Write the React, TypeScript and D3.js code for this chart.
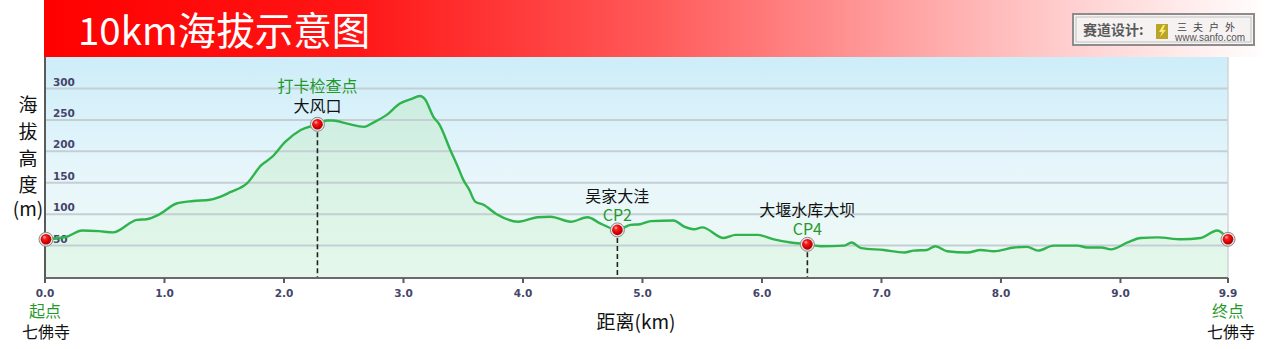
import React from "react";
import * as d3 from "d3";

const distances = [0, 0.18, 0.31, 0.45, 0.57, 0.77, 0.85, 0.96, 1.10, 1.24, 1.38, 1.47, 1.55, 1.69, 1.81, 1.90, 2.01, 2.14, 2.28, 2.36, 2.41, 2.53, 2.67, 2.75, 2.86, 2.97, 3.06, 3.14, 3.18, 3.25, 3.30, 3.39, 3.46, 3.50, 3.55, 3.60, 3.67, 3.78, 3.96, 4.12, 4.23, 4.40, 4.54, 4.65, 4.79, 4.90, 4.98, 5.07, 5.26, 5.35, 5.43, 5.50, 5.68, 5.78, 5.96, 6.10, 6.24, 6.38, 6.49, 6.69, 6.75, 6.83, 7.02, 7.19, 7.27, 7.38, 7.45, 7.55, 7.72, 7.83, 7.94, 8.11, 8.22, 8.31, 8.44, 8.64, 8.72, 8.84, 8.92, 9.06, 9.17, 9.31, 9.51, 9.67, 9.81, 9.90];
const elevations = [60, 64, 74, 73, 71, 91, 92, 100, 117, 121, 123, 128, 135, 149, 178, 191, 215, 234, 243, 249, 249, 244, 239, 246, 258, 276, 283, 288, 283, 255, 243, 203, 173, 155, 139, 120, 115, 100, 88, 95, 96, 88, 95, 85, 75, 83, 84, 89, 90, 80, 76, 79, 62, 67, 67, 60, 55, 52, 49, 50, 55, 46, 43, 39, 42, 43, 49, 41, 39, 43, 41, 47, 48, 42, 50, 50, 47, 47, 44, 55, 62, 63, 60, 62, 74, 60];

const yTicks = [50, 100, 150, 200, 250, 300];
const xTicks = [0, 1, 2, 3, 4, 5, 6, 7, 8, 9, 9.9];

const cpDistances = [2.28, 4.79, 6.38];
const cpNames = ["大风口", "吴家大洼", "大堰水库大坝"];
const cpTags = ["打卡检查点", "CP2", "CP4"];
const cpTagFirst = [true, false, false];

const endDistances = [0, 9.9];
const endTags = ["起点", "终点"];
const endNames = ["七佛寺", "七佛寺"];

const titleText = "10km海拔示意图";
const yTitleChars = ["海", "拔", "高", "度", "(m)"];
const xTitle = "距离(km)";

const W = 1269, H = 349;
const left = 45, right = 1228, top = 57, bottom = 278;

const x = d3.scaleLinear().domain([0, 9.9]).range([left, right]);
const y = d3.scaleLinear().domain([0, 300]).range([277, 88.5]);

const data = distances.map((d, i) => ({ d, e: elevations[i] }));
const elevAt = (dist: number) => {
  const i = d3.bisector((p: any) => p.d).left(data, dist);
  if (i <= 0) return data[0].e;
  if (i >= data.length) return data[data.length - 1].e;
  const a = data[i - 1], b = data[i];
  const t = (dist - a.d) / (b.d - a.d);
  return a.e + (b.e - a.e) * t;
};

const lineGen = d3.line<any>().x(p => x(p.d)).y(p => y(p.e)).curve(d3.curveMonotoneX);
const areaGen = d3.area<any>().x(p => x(p.d)).y0(bottom).y1(p => y(p.e)).curve(d3.curveMonotoneX);

const CJK = "'Noto Sans CJK SC', 'Noto Sans', sans-serif";
const NUM = "'DejaVu Sans', Verdana, sans-serif";
const GREEN_TXT = "#1f9a2a";

function Marker({ cx, cy }: { cx: number; cy: number }) {
  return (
    <g>
      <circle cx={cx} cy={cy} r={7} fill="#e4e4e4" stroke="#8a8a8a" strokeWidth={1} />
      <circle cx={cx} cy={cy} r={5.3} fill="url(#ball)" />
      <circle cx={cx - 1.5} cy={cy - 2} r={1.4} fill="#ff9a9a" opacity={0.8} />
    </g>
  );
}

export default function App() {
  return (
    <svg width={W} height={H} style={{ position: "absolute", left: 0, top: 0, background: "#fff" }}>
      <defs>
        <linearGradient id="banner" x1="0" x2="1" y1="0" y2="0">
          <stop offset="0" stopColor="#ff0000" />
          <stop offset="0.25" stopColor="#ff1515" />
          <stop offset="0.5" stopColor="#ff5a5a" />
          <stop offset="0.72" stopColor="#ffa8a8" />
          <stop offset="0.86" stopColor="#ffd6d6" />
          <stop offset="1" stopColor="#ffffff" />
        </linearGradient>
        <linearGradient id="plotbg" x1="0" x2="0" y1="0" y2="1">
          <stop offset="0" stopColor="#cdedf9" />
          <stop offset="0.55" stopColor="#e8f6fb" />
          <stop offset="1" stopColor="#eefaf3" />
        </linearGradient>
        <linearGradient id="areafill" x1="0" x2="0" y1="0" y2="1">
          <stop offset="0" stopColor="#c6ecd5" stopOpacity={0.7} />
          <stop offset="1" stopColor="#e4f7ea" stopOpacity={0.85} />
        </linearGradient>
        <radialGradient id="ball" cx="0.4" cy="0.35" r="0.7">
          <stop offset="0" stopColor="#ff3a3a" />
          <stop offset="0.6" stopColor="#e00000" />
          <stop offset="1" stopColor="#9a0000" />
        </radialGradient>
      </defs>

      {/* banner */}
      <rect x={44} y={0} width={W - 44} height={top} fill="url(#banner)" />
      <text x={78} y={45} fill="#ffffff" fontSize={38.5} fontFamily={CJK}>{titleText}</text>

      {/* logo */}
      <g>
        <rect x={1073} y={14} width={181} height={31} fill="#f6f2f2" stroke="#8c8c8c" strokeWidth={2} />
        <rect x={1076} y={17} width={175} height={25} fill="none" stroke="#b5b5b5" strokeWidth={0.8} />
        <text x={1083} y={35} fontSize={14} fontWeight="bold" fill="#5a5a5a" fontFamily={CJK}>赛道设计:</text>
        <rect x={1156} y={24} width={12} height={15} fill="#b9a52a" />
        <path d="M1163,25 L1159,32 L1162,32 L1160,37 L1166,30 L1163,30 L1165,25 Z" fill="#f7ec6a" />
        <text fontSize={10} fill="#444" fontFamily={CJK}>
          <tspan x={1177} y={31} letterSpacing={6}>三夫户外</tspan>
          <tspan x={1175} y={41} letterSpacing={0} fill="#555" fontFamily="'Liberation Sans', Arial, sans-serif">www.sanfo.com</tspan>
        </text>
      </g>

      {/* plot background */}
      <rect x={left} y={top} width={right - left} height={bottom - top} fill="url(#plotbg)" />

      {/* area */}
      <path d={areaGen(data) || ""} fill="url(#areafill)" />

      {/* gridlines */}
      {yTicks.map(t => (
        <line key={"g" + t} x1={left} x2={right} y1={y(t)} y2={y(t)} stroke="#c4cfd4" strokeWidth={2} />
      ))}

      {/* right border */}
      <line x1={right} x2={right} y1={top} y2={bottom} stroke="#cfd6d9" strokeWidth={1.5} />

      {/* y tick labels */}
      {yTicks.map(t => (
        <text key={"yl" + t} x={53} y={y(t) - 3} fontSize={10.5} fontWeight="bold" fill="#45456a" fontFamily={NUM}>{t}</text>
      ))}

      {/* dashed lines */}
      {cpDistances.map((d, i) => (
        <line key={"dl" + i} x1={x(d)} x2={x(d)} y1={y(elevAt(d))} y2={bottom} stroke="#222" strokeWidth={1.6} strokeDasharray="5,3" />
      ))}

      {/* profile line */}
      <path d={lineGen(data) || ""} fill="none" stroke="#2fb34c" strokeWidth={2.4} strokeLinejoin="round" />

      {/* axes */}
      <line x1={left} x2={left} y1={top} y2={bottom + 5} stroke="#5a5a5a" strokeWidth={2} />
      <line x1={left} x2={right} y1={bottom} y2={bottom} stroke="#6a6a6a" strokeWidth={2} />
      {xTicks.map(t => (
        <g key={"xt" + t}>
          <line x1={x(t)} x2={x(t)} y1={bottom} y2={bottom + 5} stroke="#5a5a5a" strokeWidth={2} />
          <text x={x(t)} y={297} textAnchor="middle" fontSize={10.5} fontWeight="bold" fill="#45456a" fontFamily={NUM}>{t.toFixed(1)}</text>
        </g>
      ))}

      {/* checkpoint markers and labels */}
      {cpDistances.map((d, i) => {
        const cx = x(d), cy = y(elevAt(d));
        const tagFirst = cpTagFirst[i];
        const l1 = tagFirst ? cpTags[i] : cpNames[i];
        const l2 = tagFirst ? cpNames[i] : cpTags[i];
        const c1 = tagFirst ? GREEN_TXT : "#111";
        const c2 = tagFirst ? "#111" : GREEN_TXT;
        return (
          <g key={"cp" + i}>
            <Marker cx={cx} cy={cy} />
            <text textAnchor="middle" fontSize={16} fontFamily={CJK}>
              <tspan x={cx} y={cy - (tagFirst ? 32 : 28)} fill={c1}>{l1}</tspan>
              <tspan x={cx} y={cy - (tagFirst ? 12 : 9)} fill={c2}>{l2}</tspan>
            </text>
          </g>
        );
      })}

      {/* start/end markers */}
      {endDistances.map((d, i) => (
        <g key={"end" + i}>
          <Marker cx={x(d) + (i === 0 ? 1 : 0)} cy={y(elevAt(d))} />
          <text textAnchor="middle" fontSize={16} fontFamily={CJK}>
            <tspan x={x(d)} y={317} fill={GREEN_TXT}>{endTags[i]}</tspan>
            <tspan x={x(d) + (i === 0 ? 1 : 3)} y={338} fill="#111">{endNames[i]}</tspan>
          </text>
        </g>
      ))}

      {/* y title */}
      <text textAnchor="middle" fontSize={19} fill="#111" fontFamily={CJK}>
        {yTitleChars.map((c, i) => (
          <tspan key={"yt" + i} x={28} y={[105, 132, 159, 185, 209][i] + 7}>{c}</tspan>
        ))}
      </text>

      {/* x title */}
      <text x={636} y={320} textAnchor="middle" dominantBaseline="central" fontSize={19} fill="#111" fontFamily={CJK}>{xTitle}</text>
    </svg>
  );
}
